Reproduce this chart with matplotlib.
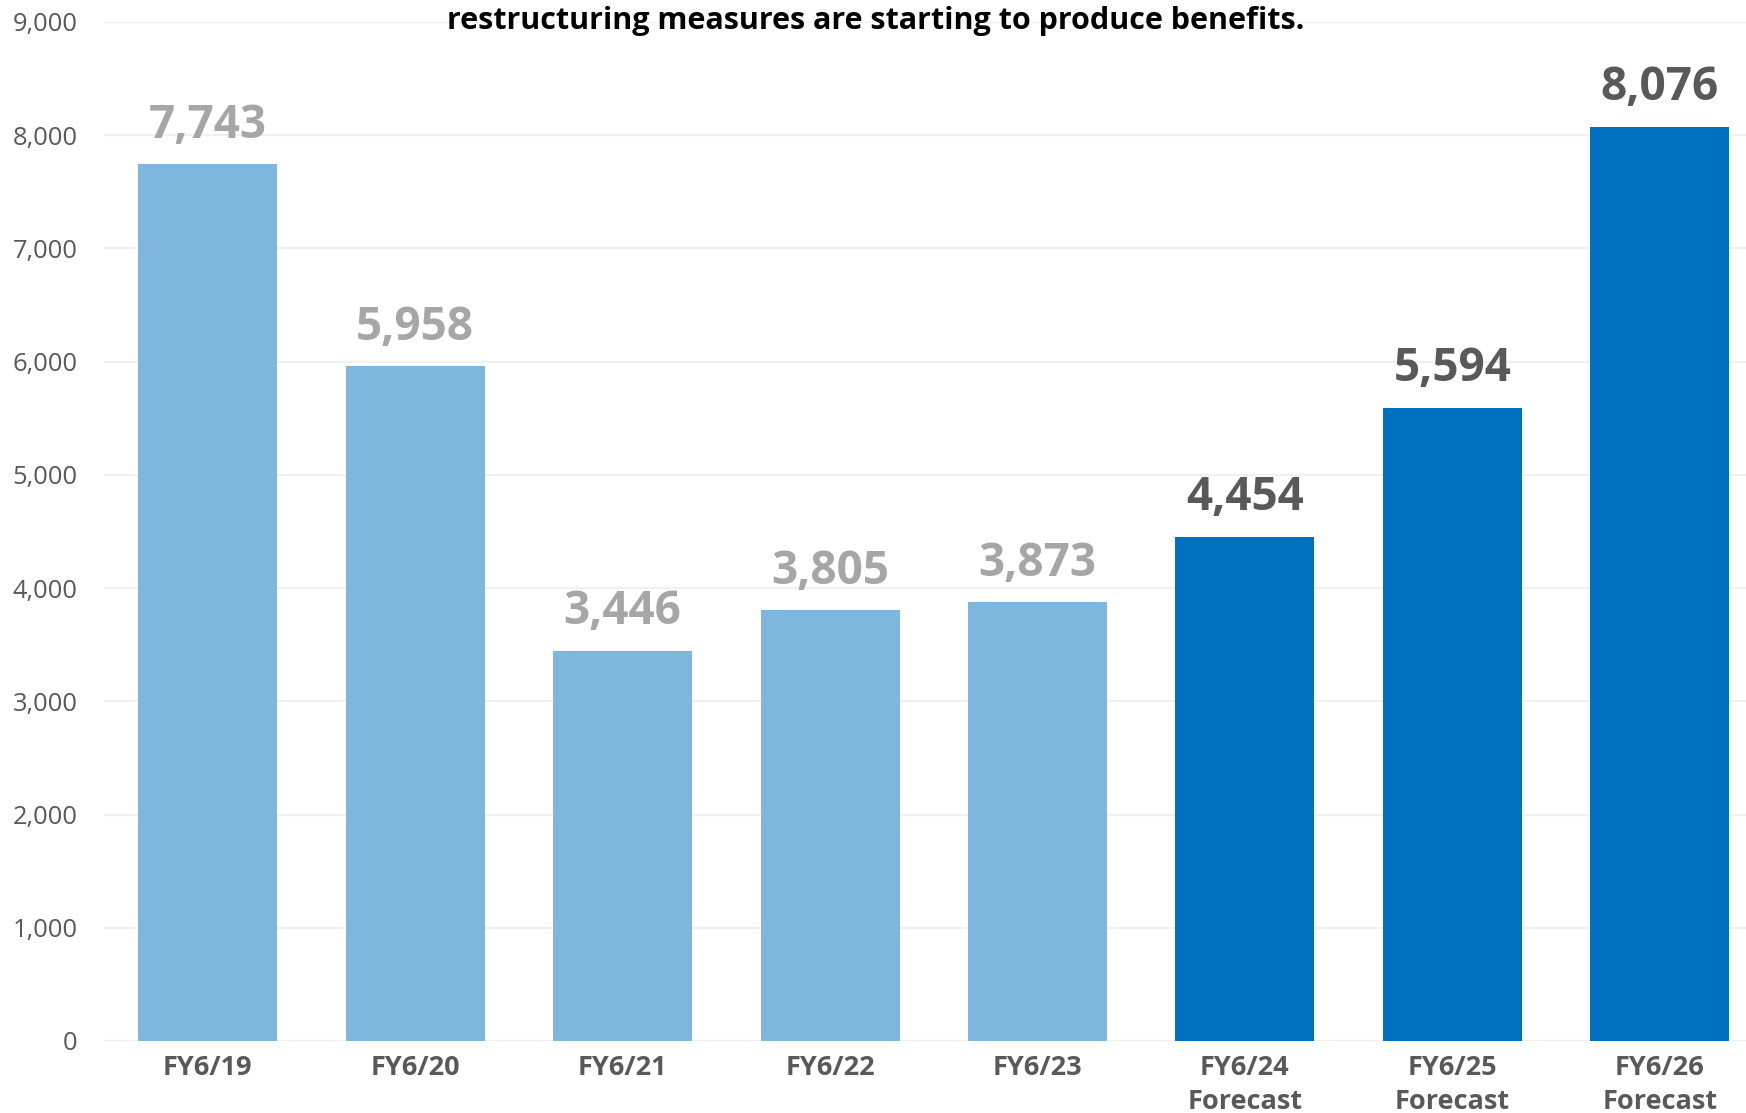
import matplotlib
matplotlib.use("Agg")
import matplotlib.pyplot as plt

categories = ["FY6/19", "FY6/20", "FY6/21", "FY6/22", "FY6/23",
              "FY6/24\nForecast", "FY6/25\nForecast", "FY6/26\nForecast"]
values = [7743, 5958, 3446, 3805, 3873, 4454, 5594, 8076]
is_forecast = [False, False, False, False, False, True, True, True]
yticks = [0, 1000, 2000, 3000, 4000, 5000, 6000, 7000, 8000, 9000]
title = "restructuring measures are starting to produce benefits."

ACTUAL = "#7fb6de"
FORECAST = "#0070c0"
LABEL_ACTUAL = "#a6a6a6"
LABEL_FORECAST = "#595959"
TICK = "#595959"

plt.rcParams["font.family"] = ["Open Sans", "DejaVu Sans"]

fig = plt.figure(figsize=(17.46, 11.13), dpi=100)
ax = fig.add_axes([104 / 1746, 1 - 1041 / 1113, 1 - 104 / 1746, (1041 - 22) / 1113])

x = list(range(len(values)))
colors = [FORECAST if f else ACTUAL for f in is_forecast]
ax.bar(x, values, width=0.67, color=colors, zorder=2)

for xi, v, f in zip(x, values, is_forecast):
    ax.annotate(f"{v:,}", (xi, v), xytext=(0, 19), textcoords="offset points",
                ha="center", va="baseline", fontsize=33, fontweight="bold",
                color=LABEL_FORECAST if f else LABEL_ACTUAL)

ax.set_xlim(-0.5, (1746 - 208) / 207.4)
ax.set_ylim(0, 9000)
ax.set_yticks(yticks)
ax.set_yticklabels([f"{t:,}" for t in yticks], fontsize=18.4, color=TICK)
ax.set_xticks(x)
ax.set_xticklabels(categories, fontsize=19.5, fontweight="bold", color=TICK,
                   linespacing=1.4)
ax.tick_params(axis="both", length=0)
ax.tick_params(axis="y", pad=19)
ax.tick_params(axis="x", pad=10)
for s in ax.spines.values():
    s.set_visible(False)
ax.grid(axis="y", color="#f0f0f0", linewidth=1.6, zorder=0)
ax.set_axisbelow(True)

fig.text(876 / 1746, 1 - 21 / 1113, title, ha="center", va="center",
         fontsize=22, fontweight="bold", color="black")

fig.savefig("out.png", dpi=100)
